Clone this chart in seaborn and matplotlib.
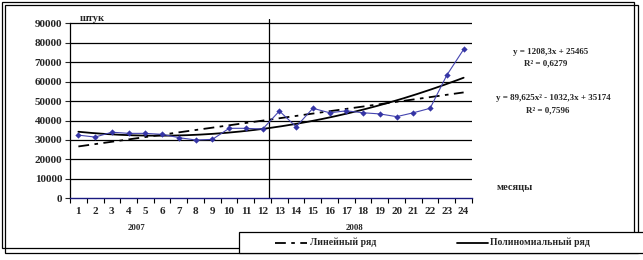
import numpy as np
import pandas as pd
import matplotlib
matplotlib.use("Agg")
import matplotlib.pyplot as plt
from matplotlib.patches import Rectangle
from matplotlib.lines import Line2D
import seaborn as sns

# ---- data ----
months = list(range(1, 25))
month_labels = [str(m) for m in months]
values = [32500, 31500, 34000, 33400, 33400, 32900, 31200, 30000, 30300, 36000, 36000, 35600,
          44900, 36800, 46300, 44000, 45000, 44000, 43400, 42000, 44000, 46300, 63400, 76600]
linear_coef = [1208.3, 25465]            # y = a*x + b
poly_coef = [89.625, -1032.3, 35174]     # y = a*x^2 + b*x + c
y_ticks = [0, 10000, 20000, 30000, 40000, 50000, 60000, 70000, 80000, 90000]
year_labels = ["2007", "2008"]
legend_labels = ["Линейный ряд", "Полиномиальный ряд"]
eq_linear = ["y = 1208,3x + 25465", "R² = 0,6279"]
eq_poly = ["y = 89,625x² - 1032,3x + 35174", "R² = 0,7596"]
unit_label = "штук"
x_label = "месяцы"

sns.set_style("white")
plt.rcParams['font.family'] = ['Liberation Serif', 'DejaVu Serif']
plt.rcParams['font.weight'] = 'bold'

W, H = 643, 260
fig = plt.figure(figsize=(W / 100, H / 100), dpi=100)

def fx(px):
    return px / W

def fy(py):
    return 1 - py / H

ax_l, ax_r, ax_b, ax_t = 70, 472, 198.3, 19.45
ax = fig.add_axes([fx(ax_l), fy(ax_b), fx(ax_r - ax_l), fy(ax_t) - fy(ax_b)])

df = pd.DataFrame({"month": months, "value": values})
x_fine = np.linspace(1, 24, 200)
lin = np.polyval(linear_coef, x_fine)
pol = np.polyval(poly_coef, x_fine)

for yv in y_ticks[1:]:
    ax.axhline(yv, color="black", lw=0.9, zorder=1)
ax.axvline(12.38, color="black", lw=0.9, zorder=1)

sns.lineplot(data=df, x="month", y="value", ax=ax, color="#4545b0", lw=0.8,
             marker="D", markersize=3.2, markeredgewidth=0,
             markerfacecolor="#3535a5", zorder=4)
ax.plot(x_fine, lin, color="black", lw=1.3, ls=(0, (6, 3, 2, 3)), zorder=3)
ax.plot(x_fine, pol, color="black", lw=1.3, ls="-", zorder=3)

ax.set_xlim(0.5, 24.5)
ax.set_ylim(0, 92000)
ax.set_xlabel("")
ax.set_ylabel("")
ax.set_yticks(y_ticks)
ax.set_yticklabels([str(v) for v in y_ticks], fontsize=8, fontweight="bold")
ax.set_xticks(months)
ax.set_xticklabels(month_labels, fontsize=8, fontweight="bold")
ax.set_xticks(np.arange(0.5, 25, 1), minor=True)
ax.tick_params(axis="x", which="major", length=0, pad=6)
ax.tick_params(axis="x", which="minor", length=3.5, width=0.8, color="black", direction="out")
ax.tick_params(axis="y", which="major", length=3.5, width=0.8, direction="out", pad=2)
ax.yaxis.set_ticks_position("left")
ax.xaxis.set_ticks_position("bottom")
for s in ["top", "right"]:
    ax.spines[s].set_visible(False)
ax.spines["left"].set_color("black")
ax.spines["left"].set_linewidth(0.9)
ax.spines["left"].set_bounds(0, 90000)
ax.spines["bottom"].set_color("#1a1a80")
ax.spines["bottom"].set_linewidth(1.0)
ax.patch.set_alpha(0)

# texts
fig.text(fx(80), fy(18.5), unit_label, fontsize=7.5, fontweight="bold", va="center", ha="left")
fig.text(fx(515), fy(188), x_label, fontsize=7.5, fontweight="bold", va="center", ha="center")
fig.text(fx(137), fy(228.3), year_labels[0], fontsize=6.3, fontweight="bold", va="center", ha="center")
fig.text(fx(354), fy(228.3), year_labels[1], fontsize=6.3, fontweight="bold", va="center", ha="center")
fig.text(fx(551), fy(52), eq_linear[0], fontsize=6.5, fontweight="bold", va="center", ha="center")
fig.text(fx(546), fy(63), eq_linear[1], fontsize=6.5, fontweight="bold", va="center", ha="center")
fig.text(fx(553), fy(98), eq_poly[0], fontsize=6.5, fontweight="bold", va="center", ha="center")
fig.text(fx(548), fy(110), eq_poly[1], fontsize=6.5, fontweight="bold", va="center", ha="center")

# frames
def frect(x0, y0, x1, y1, **kw):
    r = Rectangle((fx(x0), fy(y1)), fx(x1 - x0), fy(y0) - fy(y1), transform=fig.transFigure, **kw)
    fig.add_artist(r)

frect(1.7, 1.7, 634.3, 248.3, fill=False, edgecolor="black", lw=0.9, zorder=5)
frect(5, 5, 638.3, 253.3, fill=False, edgecolor="black", lw=0.9, zorder=5)
frect(239.3, 231.7, 660, 253.3, facecolor="white", edgecolor="black", lw=0.9, zorder=6)

# legend
ly = fy(242.5)
fig.add_artist(Line2D([fx(275), fx(307)], [ly, ly], transform=fig.transFigure, color="black",
                      lw=1.3, ls=(0, (6, 3, 2, 3)), zorder=7))
fig.text(fx(310), ly, legend_labels[0], fontsize=7, fontweight="bold", va="center", ha="left", zorder=7)
fig.add_artist(Line2D([fx(457), fx(488)], [ly, ly], transform=fig.transFigure, color="black",
                      lw=1.3, zorder=7))
fig.text(fx(490), ly, legend_labels[1], fontsize=7, fontweight="bold", va="center", ha="left", zorder=7)

fig.savefig("out.png", dpi=100)
